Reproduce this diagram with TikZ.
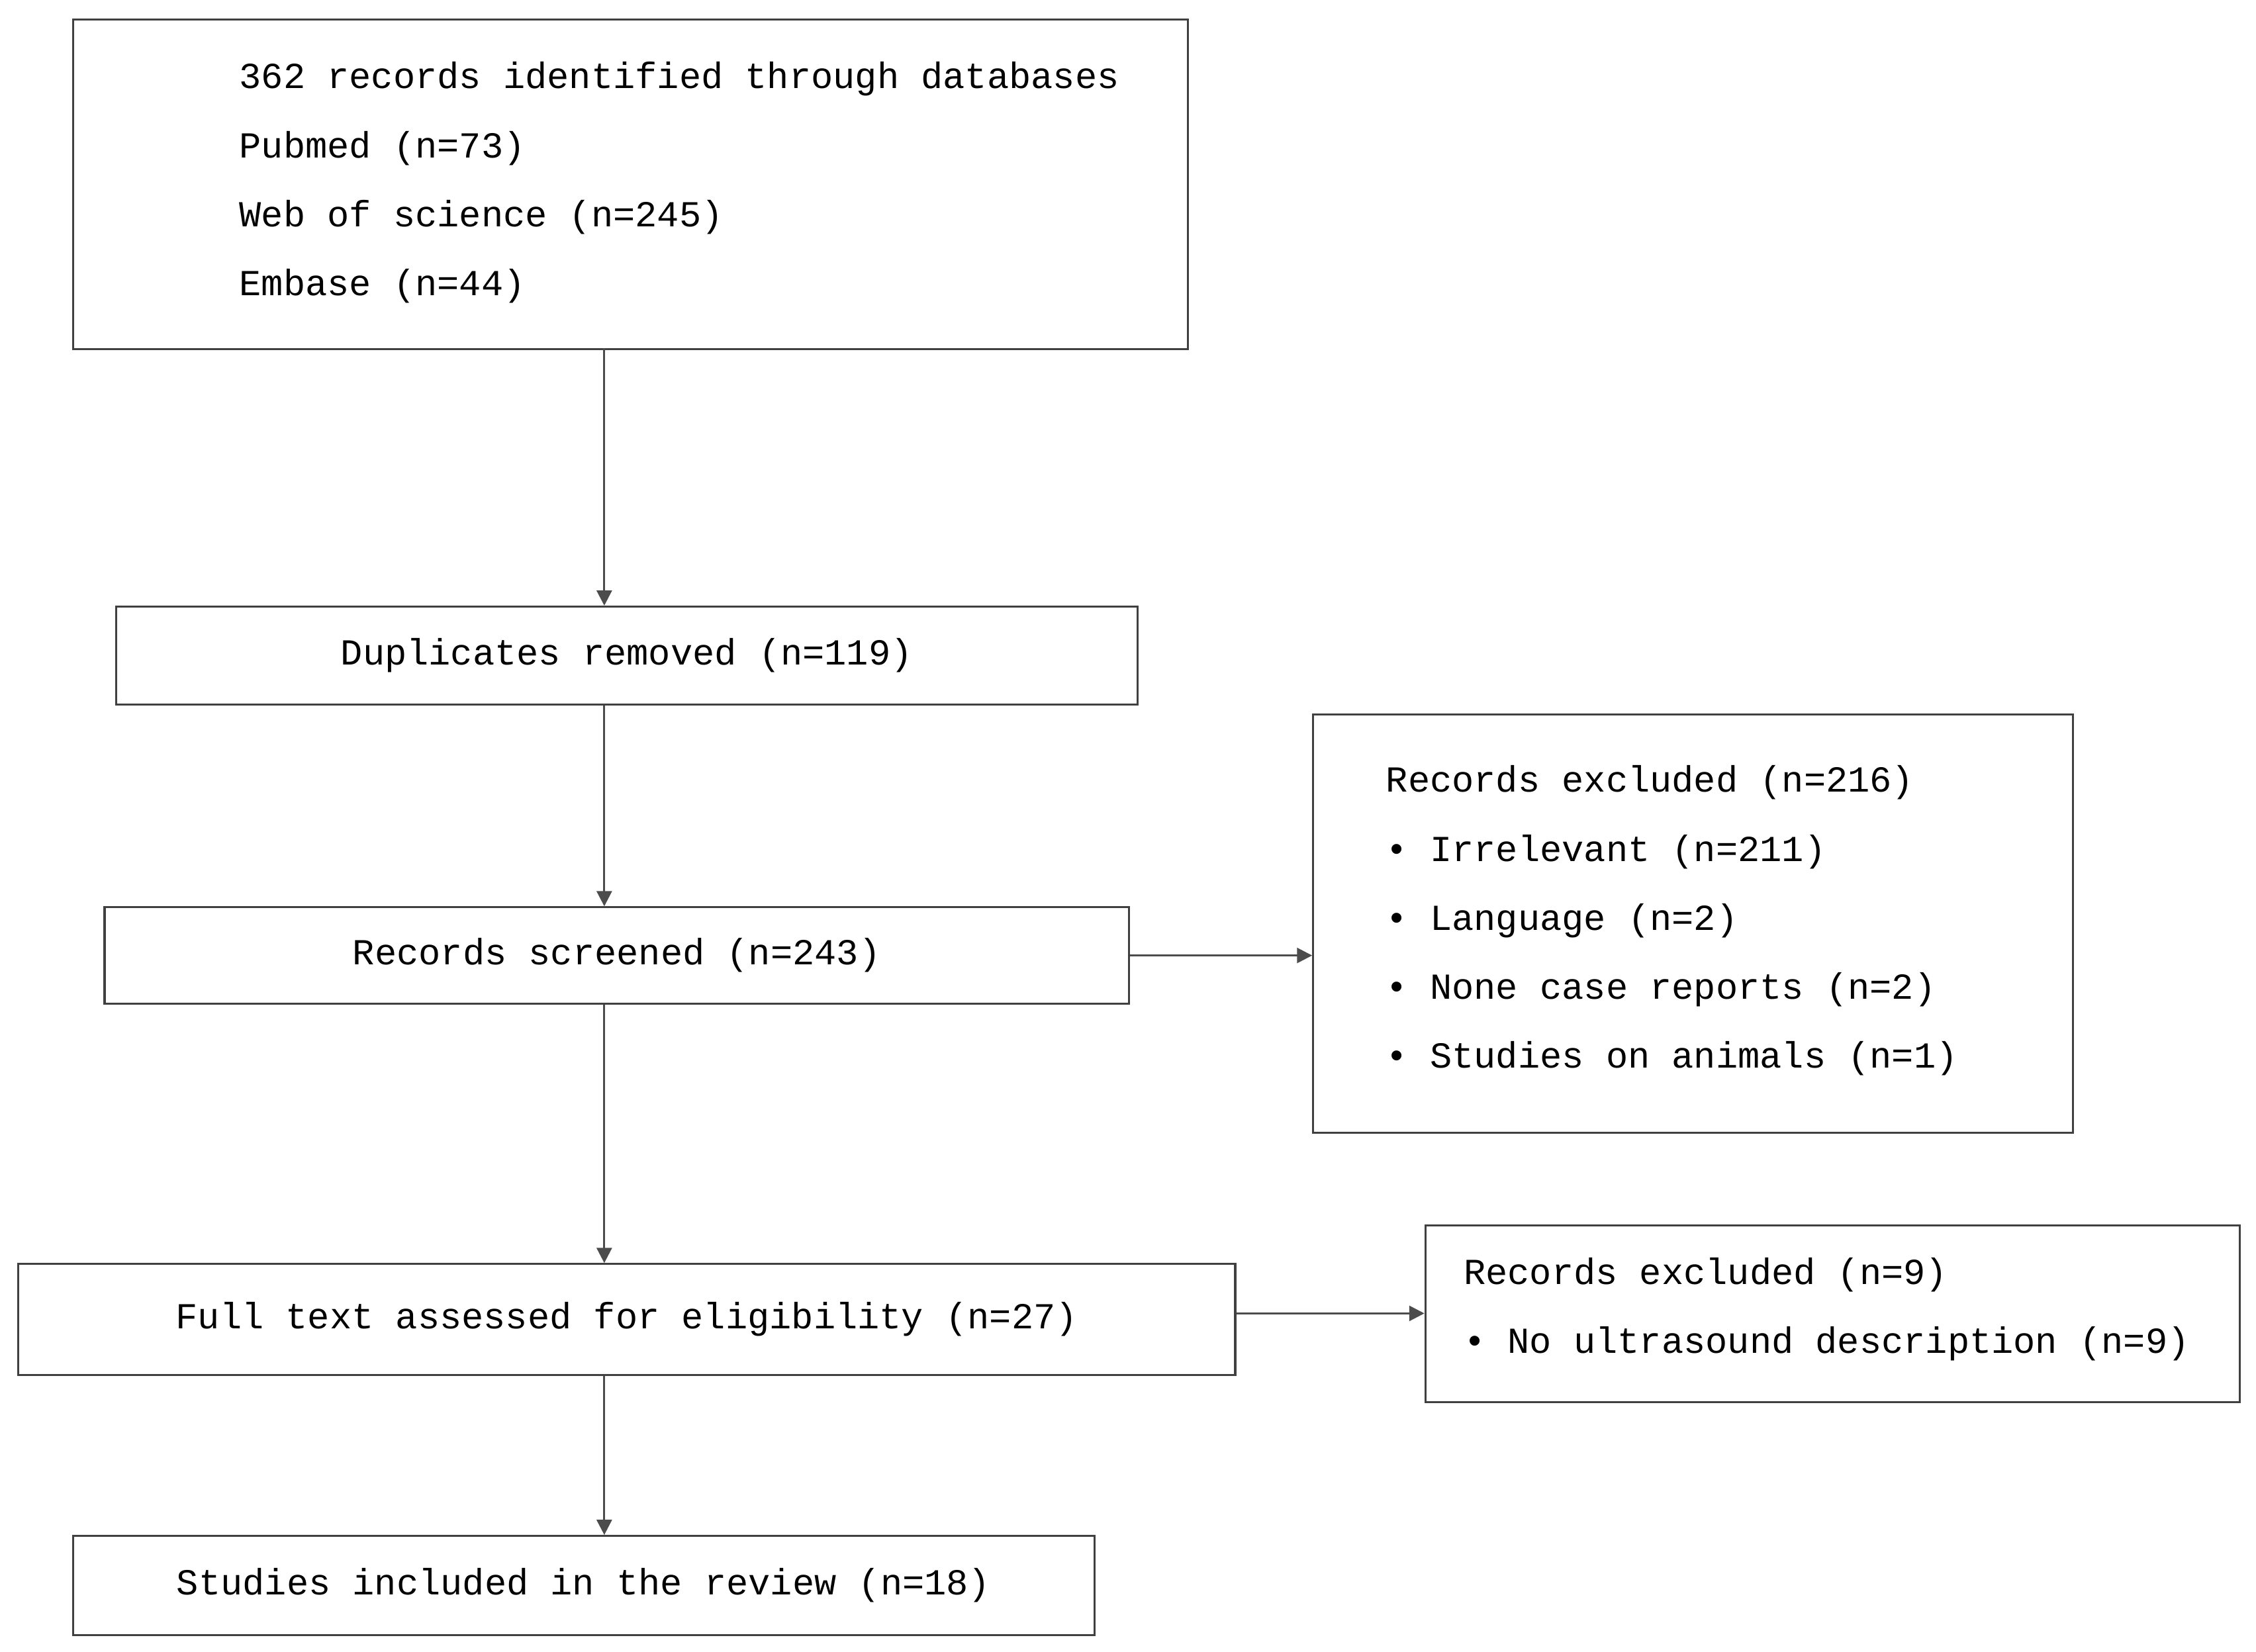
\documentclass[tikz,border=0pt]{standalone}
\usepackage{fontspec}
\setmainfont{Liberation Mono}
\usetikzlibrary{arrows.meta,positioning}
\begin{document}
\begin{tikzpicture}[x=0.02cm,y=-0.02cm,
    box/.style={rectangle, draw=black!75, line width=0.8pt, inner sep=0pt, anchor=north west},
    txt/.style={font=\fontsize{14.5}{27.3}\selectfont, align=left, inner sep=0pt},
    arrow/.style={-{Triangle[length=6pt,width=6pt]}, draw=black!70, line width=0.8pt}
]
\useasboundingbox (0,0) rectangle (1568,1148);
% boxes
\node[box, minimum width=15.5cm, minimum height=4.58cm] (search) at (50,13) {};
\node[box, minimum width=14.2cm, minimum height=1.36cm, txt] (dup) at (80,421) {};
\node[txt] at (dup.center) {Duplicates removed (n=119)};
\node[box, minimum width=14.24cm, minimum height=1.34cm] (screen) at (72,630) {};
\node[txt] at (screen.center) {Records screened (n=243)};
\node[box, minimum width=10.56cm, minimum height=5.82cm] (excl) at (912,496) {};
\node[box, minimum width=16.92cm, minimum height=1.54cm] (full) at (12,878) {};
\node[txt] at (full.center) {Full text assessed for eligibility (n=27)};
\node[box, minimum width=11.32cm, minimum height=2.46cm] (exclb) at (990,851) {};
\node[box, minimum width=14.2cm, minimum height=1.38cm] (incl) at (50,1067) {};
\node[txt] at (incl.center) {Studies included in the review (n=18)};
% texts
\node[txt, anchor=west] (searchtxt) at (166,127) {362 records identified through databases\\Pubmed (n=73)\\Web of science (n=245)\\Embase (n=44)};
\node[txt, anchor=west] (excltxt) at (963,640) {Records excluded (n=216)\\• Irrelevant (n=211)\\• Language (n=2)\\• None case reports (n=2)\\• Studies on animals (n=1)};
\node[txt, anchor=west] (exclbtxt) at (1017,910) {Records excluded (n=9)\\• No ultrasound description (n=9)};
% connectors
\coordinate (a1) at (420,242);
\coordinate (a2) at (420,421);
\draw[arrow] (a1) -- (a2);
\draw[arrow] (dup.south -| a1) -- (screen.north -| a1);
\draw[arrow] (screen.south -| a1) -- (full.north -| a1);
\draw[arrow] (full.south -| a1) -- (incl.north -| a1);
\draw[arrow] (screen.east) -- (screen.east -| excl.west);
\draw[arrow] (full.east |- 0,913) -- (exclb.west |- 0,913);
\end{tikzpicture}
\end{document}
